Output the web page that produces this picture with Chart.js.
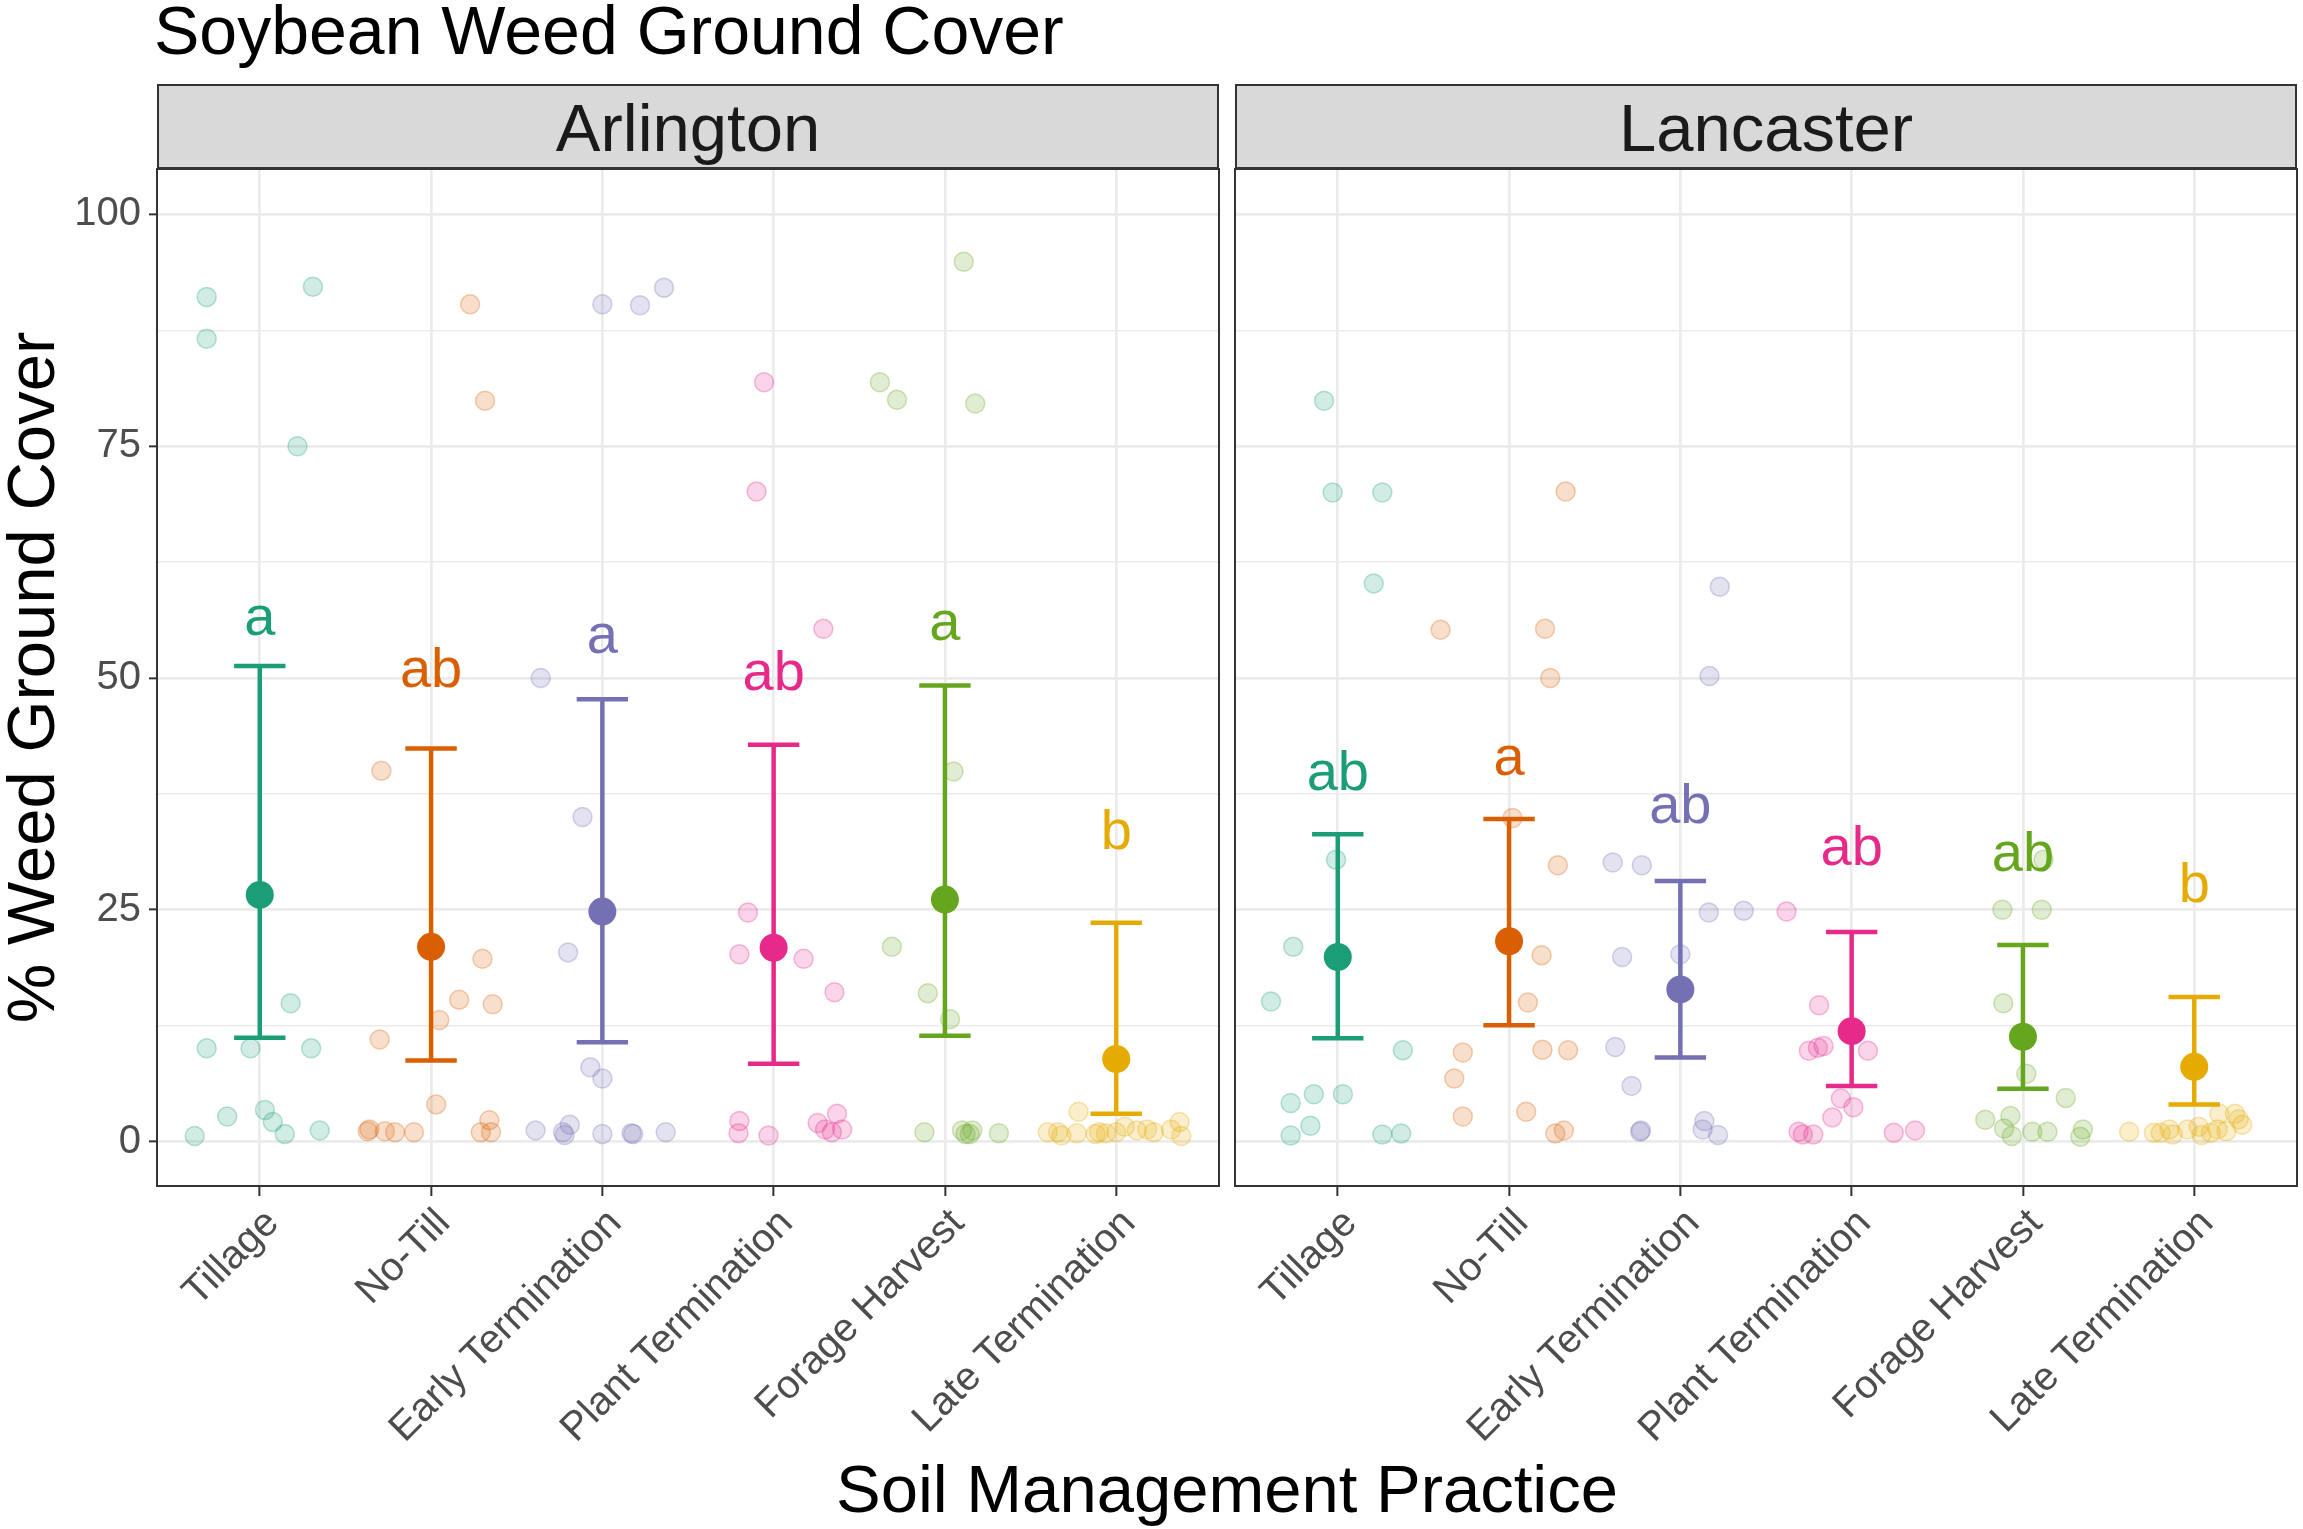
<!DOCTYPE html>
<html>
<head>
<meta charset="utf-8">
<title>Soybean Weed Ground Cover</title>
<script src="https://cdn.jsdelivr.net/npm/chart.js@4.4.1/dist/chart.umd.min.js"></script>
<style>
    body {
        margin: 0;
        width: 2303px;
        height: 1529px;
        position: relative;
        overflow: hidden;
        background: #ffffff;
        font-family: "Liberation Sans", Arial, sans-serif;
    }
    .txt { position: absolute; white-space: nowrap; color: #000000; }
    #title { left: 154px; top: -8px; font-size: 68px; line-height: 76px; }
    .strip {
        position: absolute; top: 84px; width: 1062px; height: 85px;
        background: #D9D9D9; border: 2px solid #333333; box-sizing: border-box;
    }
    .strip-label {
        position: absolute; top: 90px; width: 1062px; text-align: center;
        font-size: 67px; line-height: 75px; color: #1A1A1A; white-space: nowrap;
    }
    #xlab { left: 227px; width: 2000px; top: 1451px; text-align: center; font-size: 67px; line-height: 75px; }
    #ylab {
        left: -470px; top: 640px; width: 1000px; height: 75px; text-align: center;
        font-size: 67px; line-height: 75px; transform: rotate(-90deg);
    }
    canvas { position: absolute; }
    #arlington { left: 0px; top: 160px; }
    #lancaster { left: 1226px; top: 160px; }
</style>
</head>
<body>
<div id="title" class="txt">Soybean Weed Ground Cover</div>
<div class="strip" style="left:157px"></div>
<div class="strip" style="left:1235px"></div>
<div class="strip-label" style="left:157px">Arlington</div>
<div class="strip-label" style="left:1235px">Lancaster</div>
<div id="xlab" class="txt">Soil Management Practice</div>
<div id="ylab" class="txt">% Weed Ground Cover</div>
<canvas id="arlington" width="1222" height="1369"></canvas>
<canvas id="lancaster" width="1077" height="1369"></canvas>

<script>
// ==============================
// DATA
// ==============================
const categories = ['Tillage', 'No-Till', 'Early Termination', 'Plant Termination', 'Forage Harvest', 'Late Termination'];
const colors = ['#1B9E77', '#D95F02', '#7570B3', '#E7298A', '#66A61E', '#E6AB02'];
const yTicks = [0, 25, 50, 75, 100];
const yGrid = [0, 12.5, 25, 37.5, 50, 62.5, 75, 87.5, 100];

// Arlington: means, error bar limits, letters
const arlMeans = [26.6, 21.0, 24.8, 20.9, 26.1, 8.9];
const arlUpper = [51.3, 42.4, 47.7, 42.8, 49.2, 23.6];
const arlLower = [11.2, 8.75, 10.7, 8.4, 11.4, 3.0];
const arlLetters = ['a', 'ab', 'a', 'ab', 'a', 'b'];
const arlLetterY = [54.6, 49.0, 52.7, 48.7, 54.1, 31.6];

// Lancaster
const lanMeans = [19.9, 21.6, 16.4, 11.9, 11.3, 8.05];
const lanUpper = [33.15, 34.8, 28.1, 22.6, 21.2, 15.6];
const lanLower = [11.15, 12.55, 9.05, 6.0, 5.7, 4.0];
const lanLetters = ['ab', 'a', 'ab', 'ab', 'ab', 'b'];
const lanLetterY = [37.9, 39.5, 34.4, 29.8, 29.2, 25.8];

// raw plot observations: [jitter offset from category, % cover]
const arlTillage = [[-0.31, 91.1], [-0.31, 86.6], [0.31, 92.2], [0.22, 75.0], [-0.31, 10.05], [-0.054, 10.05], [0.30, 10.05], [0.18, 14.9], [-0.19, 2.7], [0.03, 3.4], [0.076, 2.1], [0.146, 0.8], [0.35, 1.2], [-0.38, 0.6]];
const arlNoTill = [[0.228, 90.3], [0.315, 79.9], [-0.29, 40.0], [-0.30, 11.0], [0.048, 13.1], [0.164, 15.3], [0.30, 19.7], [0.36, 14.8], [0.03, 4.0], [0.34, 2.3], [0.29, 1.0], [0.35, 1.0], [-0.37, 1.1], [-0.27, 1.1], [-0.21, 1.0], [-0.10, 1.0], [-0.36, 1.3]];
const arlEarly = [[0.0, 90.3], [0.22, 90.2], [0.36, 92.1], [-0.36, 50.0], [-0.116, 35.0], [-0.20, 20.4], [-0.07, 8.0], [0.0, 6.8], [-0.39, 1.2], [-0.19, 1.8], [-0.22, 0.7], [-0.23, 1.0], [0.0, 0.8], [0.17, 0.9], [0.18, 0.8], [0.37, 1.0]];
const arlPlant = [[-0.056, 81.9], [-0.10, 70.1], [0.29, 55.3], [-0.15, 24.7], [-0.20, 20.2], [0.175, 19.7], [0.355, 16.1], [-0.20, 2.2], [-0.205, 0.9], [-0.03, 0.65], [0.257, 2.0], [0.37, 3.0], [0.30, 1.3], [0.34, 1.0], [0.40, 1.3]];
const arlForage = [[0.11, 94.9], [-0.38, 81.9], [-0.28, 80.0], [0.177, 79.6], [0.05, 39.9], [-0.31, 21.0], [-0.10, 16.0], [0.03, 13.2], [-0.12, 1.0], [0.10, 1.2], [0.12, 0.8], [0.16, 1.2], [0.145, 0.8], [0.315, 0.9]];
const arlLate = [[-0.22, 3.2], [-0.40, 1.0], [-0.34, 1.0], [-0.32, 0.65], [-0.23, 0.9], [-0.12, 0.8], [-0.10, 1.0], [-0.06, 0.9], [0.0, 1.0], [0.05, 1.6], [0.12, 1.2], [0.18, 1.3], [0.22, 1.0], [0.32, 1.3], [0.37, 2.1], [0.38, 0.6]];

const lanTillage = [[-0.08, 79.9], [-0.03, 70.0], [0.26, 70.0], [0.21, 60.2], [-0.01, 30.4], [-0.26, 21.0], [-0.39, 15.1], [0.38, 9.85], [-0.275, 4.15], [-0.14, 5.1], [0.03, 5.1], [-0.16, 1.7], [-0.275, 0.65], [0.26, 0.75], [0.37, 0.87]];
const lanNoTill = [[0.33, 70.1], [-0.40, 55.2], [0.21, 55.3], [0.24, 50.0], [0.02, 34.9], [0.285, 29.8], [0.19, 20.1], [0.11, 15.0], [-0.27, 9.6], [0.195, 9.9], [0.345, 9.85], [-0.32, 6.8], [-0.27, 2.7], [0.10, 3.2], [0.27, 0.87], [0.32, 1.2]];
const lanEarly = [[0.23, 59.85], [0.17, 50.2], [-0.395, 30.1], [-0.225, 29.8], [0.166, 24.7], [0.37, 24.9], [-0.34, 19.9], [0.0, 20.2], [-0.38, 10.2], [-0.285, 6.0], [-0.23, 1.2], [-0.235, 1.05], [0.14, 2.2], [0.13, 1.3], [0.22, 0.7]];
const lanPlant = [[-0.38, 24.8], [-0.19, 14.7], [-0.25, 9.8], [-0.197, 10.1], [-0.164, 10.3], [0.095, 9.8], [-0.063, 4.65], [0.01, 3.7], [-0.113, 2.6], [-0.31, 1.05], [-0.285, 0.75], [-0.224, 0.75], [0.246, 0.94], [0.37, 1.2]];
const lanForage = [[-0.12, 25.0], [0.11, 25.0], [0.12, 30.4], [-0.115, 14.9], [0.02, 7.3], [0.25, 4.7], [-0.22, 2.35], [-0.073, 2.75], [-0.11, 1.4], [-0.065, 0.6], [0.055, 1.05], [0.143, 1.05], [0.35, 1.3], [0.335, 0.5]];
const lanLate = [[-0.38, 1.05], [-0.236, 0.94], [-0.196, 0.94], [-0.145, 1.3], [-0.125, 0.75], [-0.04, 1.3], [0.026, 1.6], [0.042, 0.7], [0.097, 0.94], [0.137, 1.3], [0.188, 1.1], [0.147, 3.0], [0.238, 3.0], [0.28, 1.8], [0.26, 2.4]];

const FONT = '"Liberation Sans", Arial, sans-serif';

// ==============================
// HELPERS
// ==============================
function withAlpha(hex, a) {
    const n = parseInt(hex.slice(1), 16);
    return `rgba(${(n >> 16) & 255}, ${(n >> 8) & 255}, ${n & 255}, ${a})`;
}

function buildRawPoints(groups) {
    const pts = [];
    groups.forEach((group, k) => {
        group.forEach(([dx, v]) => pts.push({ x: k + 1 + dx, y: v, c: k }));
    });
    return pts;
}

// error bars drawn right after the raw points, before the means
const errorBarPlugin = {
    id: 'errorBars',
    afterDatasetDraw(chart, args, opts) {
        if (args.index !== 1) return;
        const { ctx, scales: { x, y } } = chart;
        ctx.save();
        ctx.lineWidth = 4.5;
        ctx.lineCap = 'butt';
        opts.upper.forEach((up, k) => {
            const px = x.getPixelForValue(k + 1);
            const yu = y.getPixelForValue(up);
            const yl = y.getPixelForValue(opts.lower[k]);
            const half = x.getPixelForValue(1.15) - x.getPixelForValue(1);
            ctx.strokeStyle = colors[k];
            ctx.beginPath();
            ctx.moveTo(px, yu); ctx.lineTo(px, yl);
            ctx.moveTo(px - half, yu); ctx.lineTo(px + half, yu);
            ctx.moveTo(px - half, yl); ctx.lineTo(px + half, yl);
            ctx.stroke();
        });
        ctx.restore();
    }
};

const lettersPlugin = {
    id: 'letters',
    afterDatasetsDraw(chart, args, opts) {
        const { ctx, scales: { x, y } } = chart;
        ctx.save();
        ctx.font = `56px ${FONT}`;
        ctx.textAlign = 'center';
        ctx.textBaseline = 'alphabetic';
        opts.labels.forEach((lab, k) => {
            ctx.fillStyle = colors[k];
            ctx.fillText(lab, x.getPixelForValue(k + 1), y.getPixelForValue(opts.pos[k]));
        });
        ctx.restore();
    }
};

const panelBorderPlugin = {
    id: 'panelBorder',
    afterDraw(chart) {
        const { ctx, chartArea: a } = chart;
        ctx.save();
        ctx.strokeStyle = '#333333';
        ctx.lineWidth = 2;
        ctx.strokeRect(a.left, a.top, a.right - a.left, a.bottom - a.top);
        ctx.restore();
    }
};

// ==============================
// PANELS
// ==============================
function createPanel(canvasId, cfg) {
    const ctx = document.getElementById(canvasId);
    const isMajor = c => c.tick && yTicks.includes(c.tick.value);

    return new Chart(ctx, {
        type: 'scatter',
        data: {
            datasets: [{
                label: 'mean',
                order: 0,
                data: cfg.means.map((m, k) => ({ x: k + 1, y: m })),
                pointRadius: 14,
                pointBackgroundColor: colors,
                pointBorderColor: colors,
                pointBorderWidth: 0
            }, {
                label: 'plots',
                order: 1,
                data: buildRawPoints(cfg.raw),
                pointRadius: 9.5,
                pointBorderWidth: 1.5,
                pointBackgroundColor: c => withAlpha(colors[c.raw ? c.raw.c : 0], 0.2),
                pointBorderColor: c => withAlpha(colors[c.raw ? c.raw.c : 0], 0.3)
            }]
        },
        options: {
            responsive: false,
            animation: false,
            devicePixelRatio: 1,
            layout: { padding: cfg.padding, autoPadding: false },
            plugins: {
                legend: { display: false },
                tooltip: { enabled: false },
                errorBars: { upper: cfg.upper, lower: cfg.lower },
                letters: { labels: cfg.letters, pos: cfg.letterY }
            },
            scales: {
                x: {
                    type: 'linear',
                    min: 0.4,
                    max: 6.6,
                    afterBuildTicks: s => { s.ticks = categories.map((c, i) => ({ value: i + 1 })); },
                    afterFit: s => { s.height = 343; s.paddingLeft = 0; s.paddingRight = 0; },
                    border: { display: false },
                    grid: { color: '#EBEBEB', lineWidth: 2.7, tickLength: 10, tickColor: '#333333', tickWidth: 2 },
                    ticks: {
                        autoSkip: false,
                        minRotation: 45,
                        maxRotation: 45,
                        padding: 4,
                        labelOffset: 13,
                        color: '#4D4D4D',
                        font: { family: FONT, size: 40 },
                        callback: v => categories[Math.round(v) - 1]
                    }
                },
                y: {
                    min: -4.8,
                    max: 104.9,
                    afterBuildTicks: s => { s.ticks = yGrid.map(v => ({ value: v })); },
                    afterFit: s => { s.width = cfg.yWidth; s.paddingTop = 0; s.paddingBottom = 0; },
                    border: { display: false },
                    grid: {
                        color: '#EBEBEB',
                        lineWidth: c => isMajor(c) ? 2.7 : 1.4,
                        drawTicks: cfg.showY,
                        tickLength: 8,
                        tickWidth: 2,
                        tickColor: c => isMajor(c) ? '#333333' : 'rgba(0,0,0,0)'
                    },
                    ticks: {
                        display: cfg.showY,
                        padding: 8,
                        color: '#4D4D4D',
                        font: { family: FONT, size: 40 },
                        callback: v => yTicks.includes(v) ? String(v) : ''
                    }
                }
            }
        },
        plugins: [errorBarPlugin, lettersPlugin, panelBorderPlugin]
    });
}

createPanel('arlington', {
    means: arlMeans, upper: arlUpper, lower: arlLower,
    letters: arlLetters, letterY: arlLetterY,
    raw: [arlTillage, arlNoTill, arlEarly, arlPlant, arlForage, arlLate],
    padding: { left: 0, right: 3, top: 9, bottom: 0 },
    yWidth: 157, showY: true
});

createPanel('lancaster', {
    means: lanMeans, upper: lanUpper, lower: lanLower,
    letters: lanLetters, letterY: lanLetterY,
    raw: [lanTillage, lanNoTill, lanEarly, lanPlant, lanForage, lanLate],
    padding: { left: 9, right: 6, top: 9, bottom: 0 },
    yWidth: 0, showY: false
});
</script>
</body>
</html>
